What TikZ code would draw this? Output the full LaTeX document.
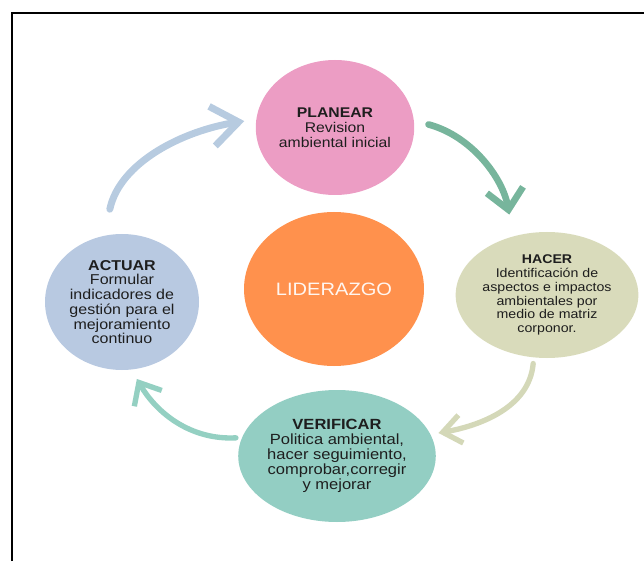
\documentclass[tikz,border=0pt]{standalone}
\usepackage{fontspec}
\setmainfont[FakeStretch=1.12]{Liberation Sans}
\usetikzlibrary{shapes.geometric,arrows.meta}
\definecolor{rosa}{HTML}{EC9DC4}
\definecolor{oliva}{HTML}{D9DBBB}
\definecolor{celeste}{HTML}{B8C9E1}
\definecolor{aguamarina}{HTML}{93CEC3}
\definecolor{naranja}{HTML}{FF914D}
\definecolor{texto}{HTML}{1E1E1E}
\definecolor{verdeflecha}{HTML}{77B59C}
\definecolor{olivaflecha}{HTML}{D4D8B8}
\definecolor{aguaflecha}{HTML}{94D0C2}
\definecolor{celesteflecha}{HTML}{B7CBE0}
\tikzset{
  fase/.style={ellipse, draw=none, inner sep=0pt, align=center, text=texto},
  lider/.style={fase, fill=naranja, text=white!92!naranja},
  flecha/.style={line cap=round, line join=round},
}
\newcommand{\fasetit}[1]{\textbf{#1}}

\begin{document}
\begin{tikzpicture}[x=0.3mm, y=0.3mm]
    \useasboundingbox (0,0) rectangle (644,561);
    % marco
    \draw[line width=1.5pt] (12,0) -- (12,548) -- (644,548);

    \node[lider, minimum width=54mm, minimum height=46.2mm,
          font=\fontsize{15.3}{17}\selectfont] (lider) at (334,272) {LIDERAZGO};
    \node[fase, fill=rosa, minimum width=46.8mm, minimum height=40.5mm,
          font=\fontsize{12}{12.8}\selectfont] (planear) at (335,433.5)
          {\fasetit{PLANEAR}\\Revision\\ambiental inicial};
    \node[fase, fill=oliva, minimum width=53.4mm, minimum height=37.8mm,
          font=\fontsize{10.8}{11.8}\selectfont] (hacer) at (547,266)
          {\fasetit{HACER}\\Identificación de\\aspectos e impactos\\ambientales por\\medio de matriz\\corponor.};
    \node[fase, fill=aguamarina, minimum width=55.2mm, minimum height=39.6mm,
          font=\fontsize{12.6}{12.9}\selectfont] (verificar) at (337,105)
          {\fasetit{VERIFICAR}\\Politica ambiental,\\hacer seguimiento,\\comprobar,corregir\\y mejorar};
    \node[fase, fill=celeste, minimum width=46.2mm, minimum height=40.8mm,
          font=\fontsize{12.2}{12.6}\selectfont] (actuar) at (122,259)
          {\fasetit{ACTUAR}\\Formular\\indicadores de\\gestión para el\\mejoramiento\\continuo};

    \path
      (planear.5) edge[flecha, draw=verdeflecha, line width=2mm,
                       out=-15, in=100, shorten <=4.5mm, shorten >=6.6mm,
                       -{Straight Barb[length=6mm, width=11mm]}] (hacer.120)
      (hacer.258) edge[flecha, draw=olivaflecha, line width=1.6mm,
                       out=-95, in=10, shorten <=1.8mm, shorten >=2.4mm,
                       -{Straight Barb[length=5.5mm, width=8.5mm]}] (verificar.13)
      (verificar.169) edge[flecha, draw=aguaflecha, line width=1.6mm,
                       out=183, in=-60, shorten <=1.8mm, shorten >=3.2mm,
                       -{Straight Barb[length=5.5mm, width=9.5mm]}] (actuar.278)
      (actuar.105) edge[flecha, draw=celesteflecha, line width=2.1mm,
                       out=78, in=189, shorten <=8.1mm, shorten >=3.6mm,
                       -{Straight Barb[length=8mm, width=12mm]}] (planear.174);
\end{tikzpicture}
\end{document}
